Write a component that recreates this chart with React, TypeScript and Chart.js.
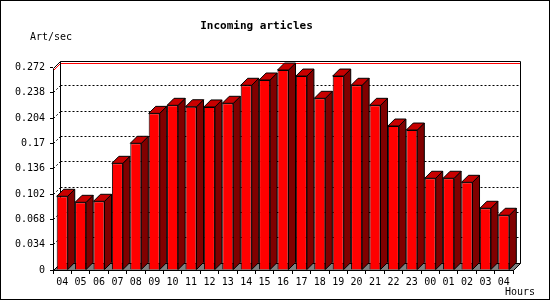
import { useEffect, useRef } from 'react';
import { Chart, registerables } from 'chart.js';

Chart.register(...registerables);

const hours = ['04', '05', '06', '07', '08', '09', '10', '11', '12', '13', '14', '15', '16', '17', '18', '19', '20', '21', '22', '23', '00', '01', '02', '03', '04'];
const artPerSec = [0.099, 0.0909, 0.0923, 0.1433, 0.1702, 0.2104, 0.2212, 0.2193, 0.219, 0.2239, 0.2481, 0.2552, 0.2686, 0.2605, 0.2306, 0.2605, 0.2481, 0.2212, 0.1934, 0.188, 0.1232, 0.1232, 0.1178, 0.0829, 0.0735];
const yTickValues = [0, 0.034, 0.068, 0.102, 0.136, 0.17, 0.204, 0.238, 0.272];
const yTickLabels = ['0', '0.034', '0.068', '0.102', '0.136', '0.17', '0.204', '0.238', '0.272'];
const chartTitle = 'Incoming articles';
const yUnit = 'Art/sec';
const xUnit = 'Hours';

const DEPTH = 7;
const MONO = '"DejaVu Sans Mono", "Liberation Mono", monospace';

const frame3d = {
  id: 'frame3d',
  beforeDraw(chart: any) {
    const ctx = chart.ctx;
    ctx.save();
    ctx.fillStyle = '#ffffff';
    ctx.fillRect(0, 0, chart.width, chart.height);
    ctx.restore();
  },
  beforeDatasetsDraw(chart: any) {
    const ctx = chart.ctx;
    const { left, right, top, bottom } = chart.chartArea;
    const ys = chart.scales.y;
    const L = Math.round(left) + 0.5;
    const R = Math.round(right) + 0.5;
    const T = Math.round(top) + 0.5;
    const B = Math.round(bottom) + 0.5;
    ctx.save();
    ctx.lineWidth = 1;
    // floor
    ctx.beginPath();
    ctx.moveTo(L, B);
    ctx.lineTo(R, B);
    ctx.lineTo(R + DEPTH, B - DEPTH);
    ctx.lineTo(L + DEPTH, B - DEPTH);
    ctx.closePath();
    ctx.fillStyle = '#808080';
    ctx.fill();
    ctx.strokeStyle = '#000';
    ctx.stroke();
    // dotted grid on back plane + dashed diagonals
    ctx.setLineDash([2, 2]);
    for (let i = 1; i < yTickValues.length - 1; i++) {
      const y = ys.getPixelForValue(yTickValues[i]);
      const yb = Math.floor(y - DEPTH) + 0.5;
      ctx.beginPath();
      ctx.moveTo(L + DEPTH, yb);
      ctx.lineTo(R + DEPTH, yb);
      ctx.stroke();
      ctx.beginPath();
      ctx.moveTo(L, yb + DEPTH);
      ctx.lineTo(L + DEPTH, yb);
      ctx.stroke();
    }
    ctx.setLineDash([]);
    // max line (red)
    const maxV = Math.max(...artPerSec);
    const ym = Math.floor(ys.getPixelForValue(maxV) - DEPTH) + 0.5;
    ctx.strokeStyle = '#ff0000';
    ctx.beginPath();
    ctx.moveTo(L, ym + DEPTH);
    ctx.lineTo(L + DEPTH, ym);
    ctx.lineTo(R + DEPTH, ym);
    ctx.stroke();
    // back plane border
    ctx.strokeStyle = '#000';
    ctx.beginPath();
    ctx.moveTo(L + DEPTH, B - DEPTH);
    ctx.lineTo(L + DEPTH, T - DEPTH);
    ctx.lineTo(R + DEPTH, T - DEPTH);
    ctx.lineTo(R + DEPTH, B - DEPTH);
    ctx.stroke();
    // bar side and top faces
    const meta = chart.getDatasetMeta(0);
    meta.data.forEach((el: any) => {
      const { x, y, base, width } = el.getProps(['x', 'y', 'base', 'width'], true);
      const x0 = x - width / 2;
      const x1 = x + width / 2;
      ctx.beginPath();
      ctx.moveTo(x1, y);
      ctx.lineTo(x1 + DEPTH, y - DEPTH);
      ctx.lineTo(x1 + DEPTH, base - DEPTH);
      ctx.lineTo(x1, base);
      ctx.closePath();
      ctx.fillStyle = '#800000';
      ctx.fill();
      ctx.stroke();
      ctx.beginPath();
      ctx.moveTo(x0, y);
      ctx.lineTo(x0 + DEPTH, y - DEPTH);
      ctx.lineTo(x1 + DEPTH, y - DEPTH);
      ctx.lineTo(x1, y);
      ctx.closePath();
      ctx.fillStyle = '#c80000';
      ctx.fill();
      ctx.stroke();
    });
    ctx.restore();
  },
  afterDatasetsDraw(chart: any) {
    const ctx = chart.ctx;
    const { left, right, top, bottom } = chart.chartArea;
    const L = Math.round(left) + 0.5;
    const R = Math.round(right) + 0.5;
    const T = Math.round(top) + 0.5;
    const B = Math.round(bottom) + 0.5;
    ctx.save();
    ctx.strokeStyle = '#000';
    ctx.lineWidth = 1;
    ctx.beginPath();
    ctx.moveTo(L + DEPTH, T - DEPTH);
    ctx.lineTo(L, T);
    ctx.lineTo(L, B);
    ctx.lineTo(R, B);
    ctx.stroke();
    ctx.restore();
  },
  afterDraw(chart: any) {
    const ctx = chart.ctx;
    ctx.save();
    ctx.fillStyle = '#000';
    ctx.font = `10px ${MONO}`;
    ctx.textBaseline = 'middle';
    ctx.textAlign = 'left';
    ctx.fillText(yUnit, 30, 37);
    ctx.fillText(xUnit, 505, 292);
    ctx.strokeStyle = '#000';
    ctx.lineWidth = 1;
    ctx.strokeRect(0.5, 0.5, chart.width - 1, chart.height - 1);
    ctx.restore();
  },
};

export default function App() {
  const ref = useRef<HTMLCanvasElement | null>(null);
  useEffect(() => {
    document.body.style.margin = '0';
    const canvas = ref.current;
    if (!canvas) return;
    const chart = new Chart(canvas, {
      type: 'bar',
      data: {
        labels: hours,
        datasets: [
          {
            data: artPerSec,
            backgroundColor: '#ff0000',
            borderColor: '#000000',
            borderWidth: 1,
            barPercentage: 0.6,
            categoryPercentage: 1,
          },
        ],
      },
      options: {
        animation: false,
        responsive: false,
        devicePixelRatio: 1,
        layout: { padding: { left: 0, right: 37, top: 0, bottom: 0 } },
        plugins: {
          legend: { display: false },
          tooltip: { enabled: false },
          title: {
            display: true,
            text: chartTitle,
            color: '#000',
            font: { family: MONO, size: 11, weight: 'bold', lineHeight: 1.2 },
            padding: { top: 20, bottom: 34.3 },
          },
        },
        scales: {
          x: {
            grid: { display: true, drawOnChartArea: false, drawTicks: true, tickLength: 4, color: '#000', offset: true },
            border: { display: false },
            ticks: { color: '#000', font: { family: MONO, size: 10 }, padding: 2, maxRotation: 0, autoSkip: false },
            afterFit: (s: any) => { s.height = 30; },
          },
          y: {
            min: 0,
            max: 0.272,
            grid: { display: true, drawOnChartArea: false, drawTicks: true, tickLength: 3, color: '#000' },
            border: { display: false },
            ticks: {
              color: '#000',
              font: { family: MONO, size: 10 },
              padding: 5,
              callback: (_v: any, i: number) => yTickLabels[i],
            },
            afterBuildTicks: (s: any) => { s.ticks = yTickValues.map((v) => ({ value: v })); },
            afterFit: (s: any) => { s.width = 53; },
          },
        },
      },
      plugins: [frame3d],
    });
    return () => chart.destroy();
  }, []);
  return <canvas ref={ref} width={550} height={300} style={{ display: 'block' }} />;
}
